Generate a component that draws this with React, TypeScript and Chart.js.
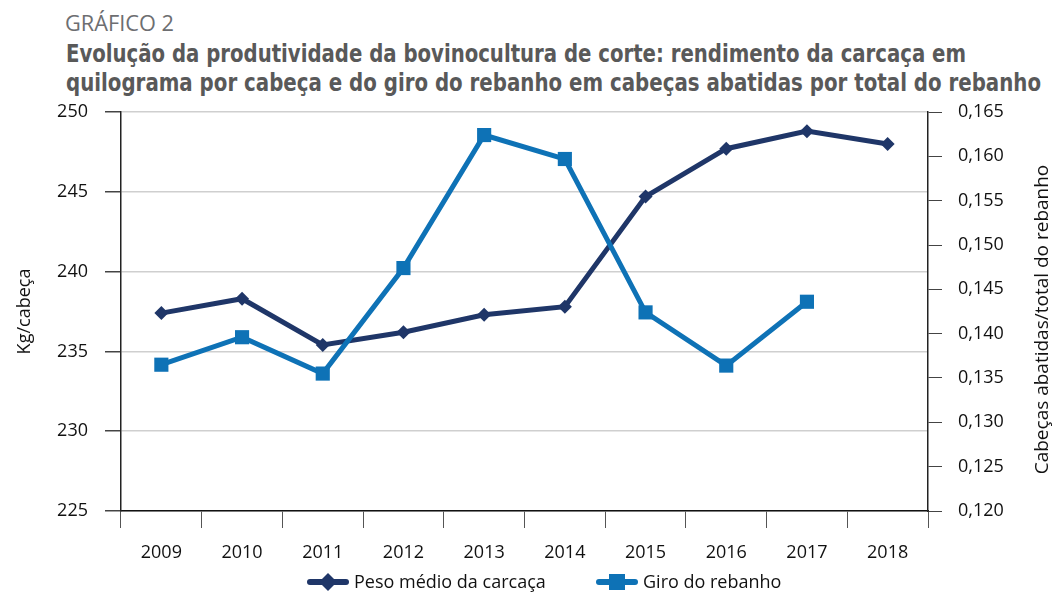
import React, { useEffect, useLayoutEffect, useRef } from "react";
import { Chart, registerables } from "chart.js";

Chart.register(...registerables);

const years = ["2009", "2010", "2011", "2012", "2013", "2014", "2015", "2016", "2017", "2018"];
const pesoMedioCarcaca = [237.4, 238.3, 235.4, 236.2, 237.3, 237.8, 244.7, 247.7, 248.8, 248.0];
const giroRebanho = [0.1365, 0.1396, 0.1355, 0.1474, 0.1624, 0.1597, 0.1424, 0.1364, 0.1436, null];
const leftTickValues = [225, 230, 235, 240, 245, 250];
const rightTickValues = [0.12, 0.125, 0.13, 0.135, 0.14, 0.145, 0.15, 0.155, 0.16, 0.165];
const seriesLabels = ["Peso médio da carcaça", "Giro do rebanho"];
const chartKicker = "GRÁFICO 2";
const titleLines = [
  "Evolução da produtividade da bovinocultura de corte: rendimento da carcaça em",
  "quilograma por cabeça e do giro do rebanho em cabeças abatidas por total do rebanho",
];
const leftAxisTitle = "Kg/cabeça";
const rightAxisTitle = "Cabeças abatidas/total do rebanho";

const NAVY = "#1f3668";
const BLUE = "#0e72b6";
const CONDENSED = '"DejaVu Sans Condensed", "Open Sans", sans-serif';
const SANS = '"Open Sans", "Noto Sans", sans-serif';

function FitText({ text, width, style }: { text: string; width: number; style: React.CSSProperties }) {
  const ref = useRef<HTMLSpanElement>(null);
  useLayoutEffect(() => {
    const el = ref.current;
    if (!el) return;
    el.style.transform = "none";
    const w = el.getBoundingClientRect().width;
    if (w > 0) el.style.transform = `scaleX(${width / w})`;
  }, [text, width]);
  return (
    <span ref={ref} style={{ position: "absolute", whiteSpace: "nowrap", transformOrigin: "0 0", ...style }}>
      {text}
    </span>
  );
}

const decorPlugin = {
  id: "decor",
  afterDraw(chart: any) {
    const ctx = chart.ctx as CanvasRenderingContext2D;
    const area = chart.chartArea;
    ctx.save();
    // right axis title, reading bottom-to-top
    ctx.font = `19px ${SANS}`;
    ctx.fillStyle = "#111";
    ctx.textAlign = "center";
    ctx.textBaseline = "middle";
    ctx.translate(1043, (area.top + area.bottom) / 2 + 8);
    ctx.rotate(-Math.PI / 2);
    ctx.fillText(rightAxisTitle, 0, 0);
    ctx.restore();

    // legend with line + marker icons
    ctx.save();
    ctx.font = `18px ${SANS}`;
    const y = 582;
    const starts = [307, 596];
    chart.data.datasets.forEach((ds: any, i: number) => {
      const x = starts[i];
      const color = ds.borderColor;
      ctx.strokeStyle = color;
      ctx.lineWidth = 6;
      ctx.lineCap = "round";
      ctx.beginPath();
      ctx.moveTo(x + 3, y);
      ctx.lineTo(x + 39, y);
      ctx.stroke();
      ctx.fillStyle = color;
      ctx.beginPath();
      const cx = x + 21;
      if (ds.pointStyle === "rectRot") {
        const r = 9;
        ctx.moveTo(cx, y - r);
        ctx.lineTo(cx + r, y);
        ctx.lineTo(cx, y + r);
        ctx.lineTo(cx - r, y);
        ctx.closePath();
      } else {
        const s = 8;
        ctx.rect(cx - s, y - s, 2 * s, 2 * s);
      }
      ctx.fill();
      ctx.fillStyle = "#111";
      ctx.textBaseline = "middle";
      ctx.textAlign = "left";
      ctx.fillText(ds.label, x + 47, y + 1);
    });
    ctx.restore();
  },
};

export default function App() {
  const canvasRef = useRef<HTMLCanvasElement>(null);

  useEffect(() => {
    if (!canvasRef.current) return;
    const chart = new Chart(canvasRef.current, {
      type: "line",
      data: {
        labels: years,
        datasets: [
          {
            label: seriesLabels[0],
            data: pesoMedioCarcaca,
            yAxisID: "y",
            borderColor: NAVY,
            backgroundColor: NAVY,
            borderWidth: 5,
            pointStyle: "rectRot",
            pointRadius: 7,
            pointBorderWidth: 0,
            pointBackgroundColor: NAVY,
            tension: 0,
            order: 2,
          },
          {
            label: seriesLabels[1],
            data: giroRebanho,
            yAxisID: "y1",
            borderColor: BLUE,
            backgroundColor: BLUE,
            borderWidth: 5,
            pointStyle: "rect",
            pointRadius: 10,
            pointBorderWidth: 0,
            pointBackgroundColor: BLUE,
            tension: 0,
            spanGaps: false,
            order: 1,
          },
        ],
      },
      options: {
        responsive: false,
        animation: false,
        devicePixelRatio: 1,
        events: [],
        layout: { padding: { top: 112, left: 0, right: 0, bottom: 0 } },
        plugins: {
          legend: { display: false },
          tooltip: { enabled: false },
          title: { display: false },
        },
        scales: {
          x: {
            type: "category",
            offset: true,
            grid: { offset: true, drawOnChartArea: false, drawTicks: true, tickLength: 17, color: "#555", lineWidth: 1 },
            border: { color: "#111", width: 1.5 },
            ticks: { font: { family: SANS, size: 18 }, color: "#111", padding: 14, maxRotation: 0 },
            afterFit: (s: any) => {
              s.height = 81;
            },
          },
          y: {
            position: "left",
            min: 225,
            max: 250,
            afterBuildTicks: (s: any) => {
              s.ticks = leftTickValues.map((v) => ({ value: v }));
            },
            grid: { color: "#cfcfcf", lineWidth: 1.5, drawTicks: true, tickColor: "#444", tickLength: 16 },
            border: { color: "#222", width: 1.5 },
            ticks: { font: { family: SANS, size: 18 }, color: "#111", padding: 17 },
            title: {
              display: true,
              text: leftAxisTitle,
              font: { family: SANS, size: 18 },
              color: "#111",
              padding: { top: 14, bottom: 0 },
            },
            afterFit: (s: any) => {
              s.width = 121;
            },
          },
          y1: {
            position: "right",
            min: 0.12,
            max: 0.165,
            afterBuildTicks: (s: any) => {
              s.ticks = rightTickValues.map((v) => ({ value: v }));
            },
            grid: { drawOnChartArea: false, drawTicks: true, tickColor: "#444", tickLength: 14 },
            border: { color: "#222", width: 1.5 },
            ticks: {
              font: { family: SANS, size: 18 },
              color: "#111",
              padding: 16,
              callback: (v: any) => Number(v).toFixed(3).replace(".", ","),
            },
            title: { display: false },
            afterFit: (s: any) => {
              s.width = 124;
            },
          },
        },
      },
      plugins: [decorPlugin],
    } as any);
    return () => chart.destroy();
  }, []);

  return (
    <div style={{ position: "absolute", left: 0, top: 0, width: 1052, height: 592, background: "#fff", overflow: "hidden" }}>
      <FitText
        text={chartKicker}
        width={109}
        style={{ left: 65, top: 13, fontFamily: SANS, fontWeight: 400, fontSize: 21, lineHeight: "21px", color: "#6d6e71" }}
      />
      <FitText
        text={titleLines[0]}
        width={900}
        style={{ left: 66, top: 41, fontFamily: CONDENSED, fontWeight: 700, fontSize: 25, lineHeight: "25px", color: "#595959" }}
      />
      <FitText
        text={titleLines[1]}
        width={975}
        style={{ left: 66, top: 70, fontFamily: CONDENSED, fontWeight: 700, fontSize: 25, lineHeight: "25px", color: "#595959" }}
      />
      <canvas
        ref={canvasRef}
        width={1052}
        height={592}
        style={{ position: "absolute", left: 0, top: 0, width: 1052, height: 592 }}
      />
    </div>
  );
}
